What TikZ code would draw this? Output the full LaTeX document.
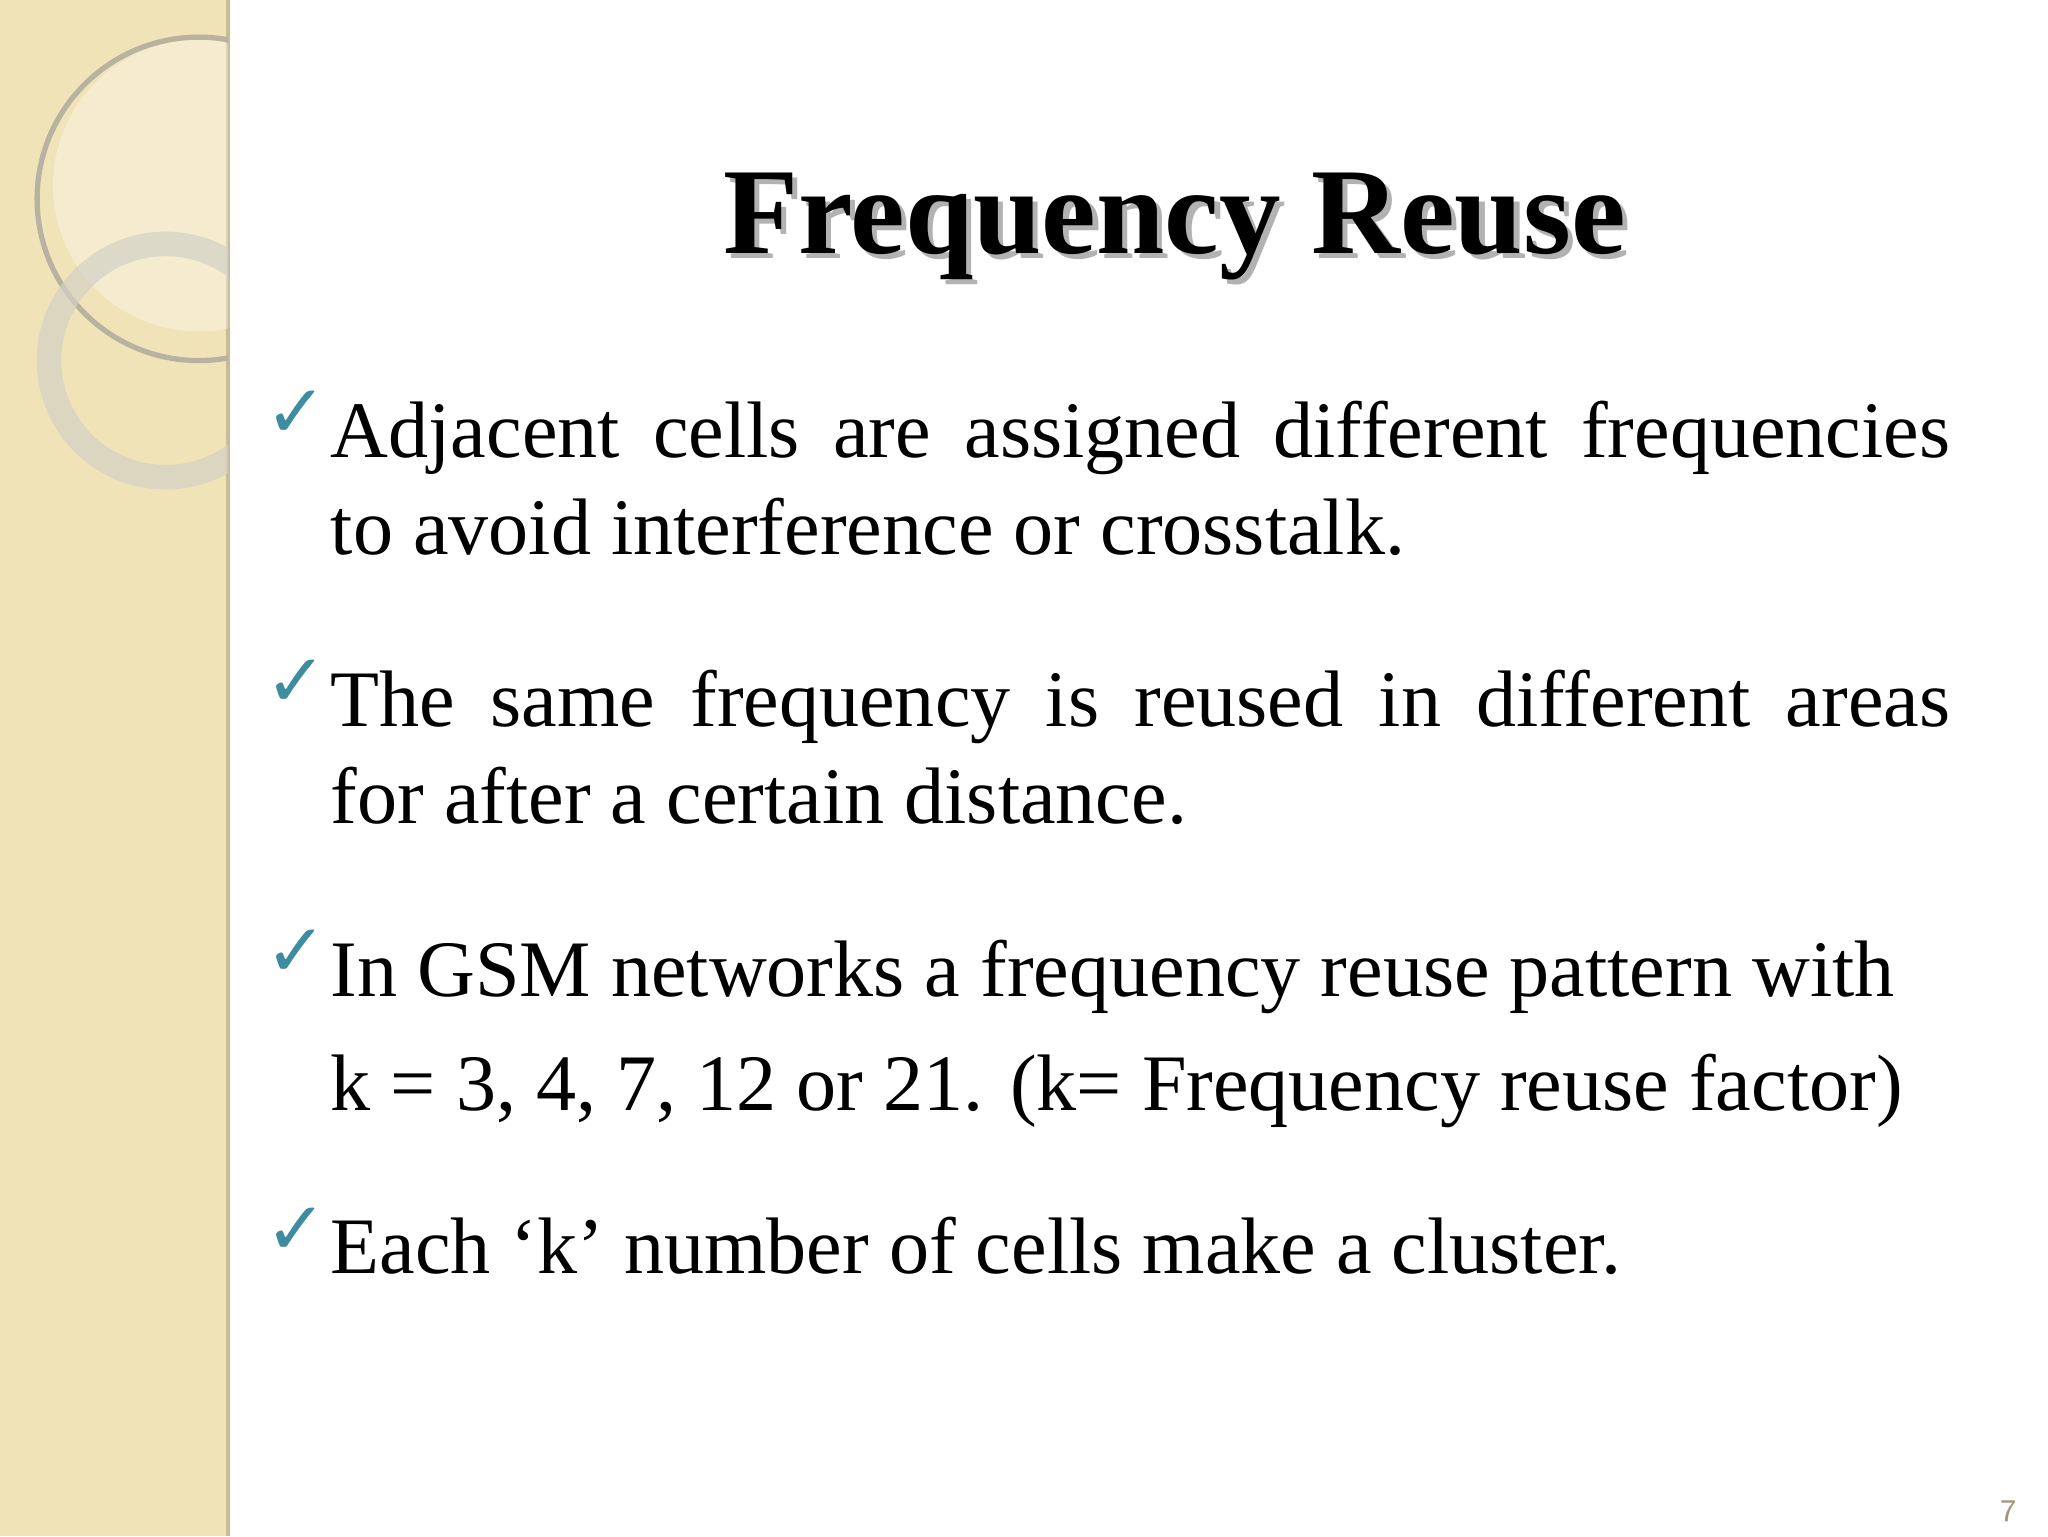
\documentclass[tikz,border=0pt]{standalone}
\usepackage{fontspec}
\setmainfont{Liberation Serif}
\newfontfamily\dejavu{DejaVu Sans}
\definecolor{strip}{HTML}{F1E3B8}
\definecolor{stripedge}{HTML}{C9BC95}
\definecolor{chk}{HTML}{3E8CA0}
\definecolor{ring}{HTML}{B8B2A0}
\begin{document}
\begin{tikzpicture}[x=0.013256cm,y=-0.013256cm,
  body/.style={anchor=base west,inner sep=0,font=\fontsize{22.8}{26}\selectfont},
  tick/.style={anchor=base west,inner sep=0,text=chk,font=\dejavu\fontsize{21}{24}\selectfont}]
\useasboundingbox (0,0) rectangle (1545,1159);
\fill[white] (0,0) rectangle (1545,1159);
\fill[strip] (0,0) rectangle (172,1159);
\draw[stripedge,line width=1.2pt] (172,0) -- (172,1159);
\begin{scope}
\clip (0,0) rectangle (172,1159);
\fill[white,opacity=0.35] (150,140) circle (110);
\draw[ring,line width=1.5pt] (150,150) circle (122);
\draw[ring!60,line width=7pt,opacity=0.7] (125,272) circle (88);
\end{scope}
\node[inner sep=0,text=gray!60,font=\bfseries\fontsize{35}{40}\selectfont] at (890,175) {Frequency Reuse};
\node (title) [inner sep=0,font=\bfseries\fontsize{35}{40}\selectfont] at (886,171) {Frequency Reuse};
\node (t1) [tick] at (200,330) {✓};
\node (l1) [body] at (249,345) {\makebox[16.2cm][s]{Adjacent cells are assigned different frequencies}};
\node (l2) [body] at (249,418) {to avoid interference or crosstalk.};
\node (t2) [tick] at (200,533) {✓};
\node (l3) [body] at (249,548) {\makebox[16.2cm][s]{The same frequency is reused in different areas}};
\node (l4) [body] at (249,621) {for after a certain distance.};
\node (t3) [tick] at (200,737) {✓};
\node (l5) [body] at (249,752) {In GSM networks a frequency reuse pattern with};
\node (l6) [body] at (249,838) {k = 3, 4, 7, 12 or 21. (k= Frequency reuse factor)};
\node (t4) [tick] at (200,946) {✓};
\node (l7) [body] at (249,961) {Each ‘k’ number of cells make a cluster.};
\node (pg) [inner sep=0,text=stripedge!80!black,font=\sffamily\fontsize{9}{10}\selectfont] at (1515,1140) {7};
\end{tikzpicture}
\end{document}
